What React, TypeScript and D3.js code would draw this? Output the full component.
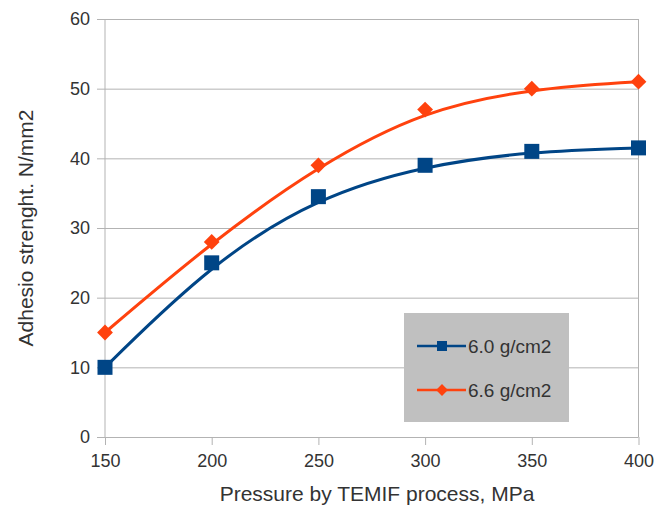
import React, { useEffect, useRef } from 'react'
import * as d3 from 'd3'

const pressures = [150, 200, 250, 300, 350, 400]
const density60 = [10, 25, 34.5, 39, 41, 41.5]
const density66 = [15, 28, 39, 47, 50, 51]
const xTicks = [150, 200, 250, 300, 350, 400]
const yTicks = [0, 10, 20, 30, 40, 50, 60]
const seriesNames = ['6.0 g/cm2', '6.6 g/cm2']

const BLUE = '#004586'
const ORANGE = '#ff420e'
const GRID = '#b3b3b3'
const TEXT = '#333333'

export default function App() {
    const ref = useRef<SVGSVGElement | null>(null)

    useEffect(() => {
        draw()
    }, [])

    const draw = () => {
        const width = 656
        const height = 510
        const left = 105, right = 638.5, top = 19, bottom = 437

        const svg = d3.select(ref.current)
        svg.selectAll('*').remove()
        svg.attr('width', width).attr('height', height)
            .style('font-family', '"Liberation Sans", Arial, sans-serif')

        const xScale = d3.scaleLinear().domain([150, 400]).range([left, right])
        const yScale = d3.scaleLinear().domain([0, 60]).range([bottom, top])

        // horizontal grid + y ticks
        svg.append('g')
            .attr('transform', `translate(${left},0)`)
            .call(d3.axisLeft(yScale).tickValues(yTicks).tickSize(-(right - left)).tickSizeOuter(0).tickPadding(15))
            .call(g => g.select('.domain').remove())
            .call(g => g.selectAll('.tick line').attr('stroke', GRID).attr('x1', -8))
            .call(g => g.selectAll('.tick text').attr('fill', TEXT).style('font-size', '18px'))

        // x axis ticks
        svg.append('g')
            .attr('transform', `translate(0,${bottom})`)
            .call(d3.axisBottom(xScale).tickValues(xTicks).tickSize(8).tickSizeOuter(0).tickPadding(9))
            .call(g => g.select('.domain').remove())
            .call(g => g.selectAll('.tick line').attr('stroke', GRID))
            .call(g => g.selectAll('.tick text').attr('fill', TEXT).style('font-size', '18px'))

        // frame: left axis and right border
        svg.append('line').attr('x1', left).attr('x2', left).attr('y1', top).attr('y2', bottom)
            .attr('stroke', GRID)
        svg.append('line').attr('x1', right).attr('x2', right).attr('y1', top).attr('y2', bottom)
            .attr('stroke', GRID)

        const line = d3.line<number>()
            .x((d, i) => xScale(pressures[i]))
            .y(d => yScale(d))
            .curve(d3.curveBasis)

        svg.append('path').datum(density60)
            .attr('fill', 'none').attr('stroke', BLUE).attr('stroke-width', 3).attr('d', line)
        svg.append('path').datum(density66)
            .attr('fill', 'none').attr('stroke', ORANGE).attr('stroke-width', 3).attr('d', line)

        const square = d3.symbol().type(d3.symbolSquare).size(225)
        const diamond = d3.symbol().type(d3.symbolSquare).size(125)

        svg.append('g').selectAll('path').data(density60).join('path')
            .attr('transform', (d, i) => `translate(${xScale(pressures[i])},${yScale(d)})`)
            .attr('d', square).attr('fill', BLUE)
        svg.append('g').selectAll('path').data(density66).join('path')
            .attr('transform', (d, i) => `translate(${xScale(pressures[i])},${yScale(d)}) rotate(45)`)
            .attr('d', diamond).attr('fill', ORANGE)

        // legend
        const legend = svg.append('g').attr('transform', 'translate(404,313)')
        legend.append('rect').attr('width', 165).attr('height', 109).attr('fill', '#c0c0c0')
        const colors = [BLUE, ORANGE]
        const symbols = [d3.symbol().type(d3.symbolSquare).size(100), d3.symbol().type(d3.symbolSquare).size(70)]
        seriesNames.forEach((name, i) => {
            const y = 33 + i * 44
            legend.append('line').attr('x1', 13).attr('x2', 62).attr('y1', y).attr('y2', y)
                .attr('stroke', colors[i]).attr('stroke-width', 2.5)
            legend.append('path').attr('transform', `translate(38,${y})` + (i === 1 ? ' rotate(45)' : ''))
                .attr('d', symbols[i]).attr('fill', colors[i])
            legend.append('text').attr('x', 64).attr('y', y).attr('dy', '0.35em')
                .attr('fill', TEXT).style('font-size', '19px').text(name)
        })

        // axis titles
        svg.append('text').attr('x', 377).attr('y', 501)
            .attr('text-anchor', 'middle').attr('fill', TEXT).style('font-size', '21px')
            .text('Pressure by TEMIF process, MPa')
        svg.append('text')
            .attr('transform', `translate(33,${(top + bottom) / 2}) rotate(-90)`)
            .attr('text-anchor', 'middle').attr('fill', TEXT).style('font-size', '21px')
            .text('Adhesio strenght. N/mm2')
    }

    return (
        <svg ref={ref} style={{ position: 'absolute', left: 0, top: 0 }}></svg>
    )
}
